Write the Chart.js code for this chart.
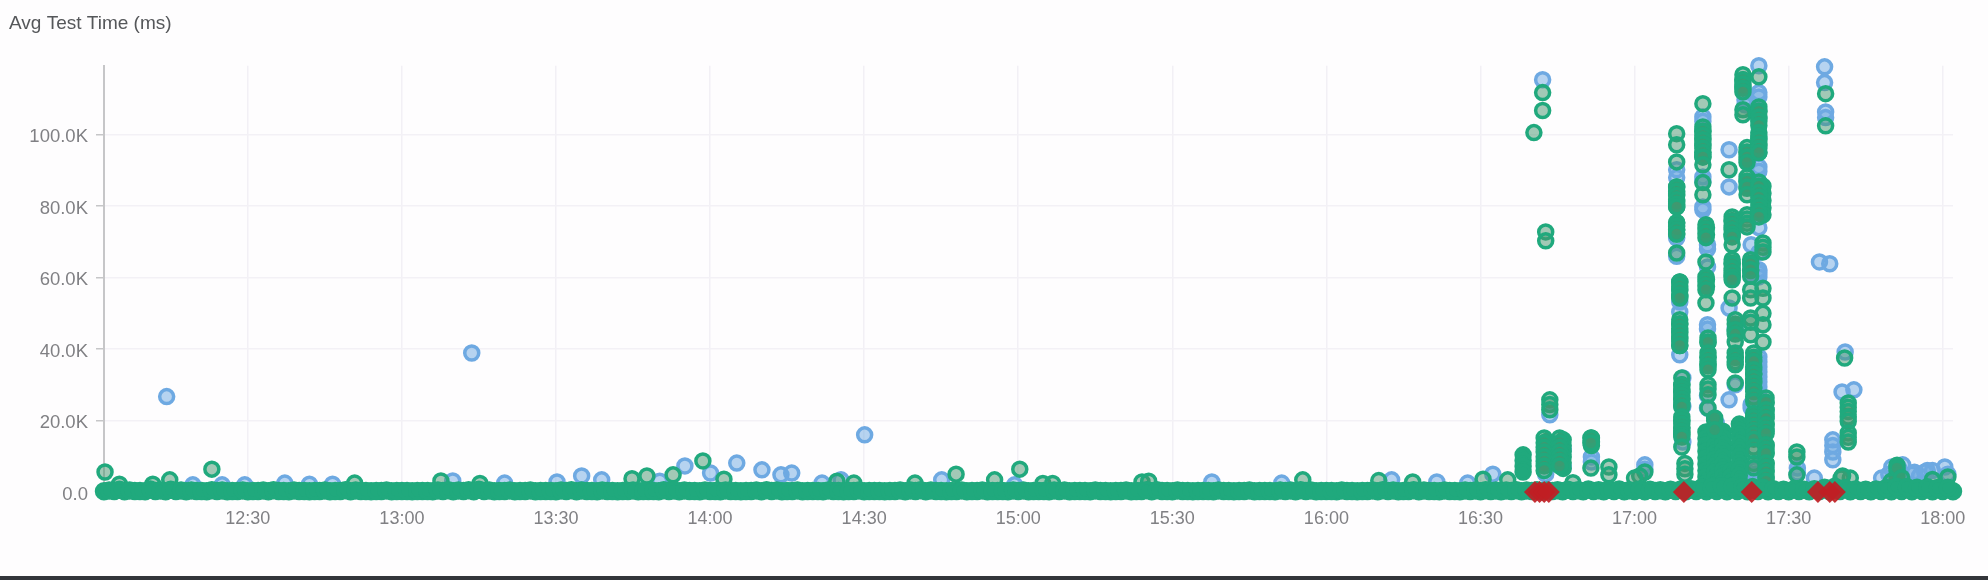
<!DOCTYPE html>
<html>
<head>
<meta charset="utf-8">
<title>Avg Test Time</title>
<script src="https://cdn.jsdelivr.net/npm/chart.js@4"></script>
<style>
    html, body { margin: 0; padding: 0; background: #fefdfe; overflow: hidden; }
    #chartBox { width: 1988px; height: 576px; }
    #bottomBar { width: 1988px; height: 4px; background: #33353a; }
</style>
</head>
<body>
<div id="chartBox"><canvas id="testTimeChart" width="1988" height="576"></canvas></div>
<div id="bottomBar"></div>
<script>

// times are minutes since midnight, values are thousands of ms
const xTickValues = [750, 780, 810, 840, 870, 900, 930, 960, 990, 1020, 1050, 1080];
const xTickLabels = ["12:30", "13:00", "13:30", "14:00", "14:30", "15:00", "15:30", "16:00", "16:30", "17:00", "17:30", "18:00"];
const yTickValues = [0, 20, 40, 60, 80, 100];
const yTickLabels = ["0.0", "20.0K", "40.0K", "60.0K", "80.0K", "100.0K"];

// failed runs
const failTimes = [1000.6, 1001.5, 1002.4, 1003.3, 1029.6, 1042.8, 1055.7, 1058, 1059];
const failValues = [0, 0, 0, 0, 0, 0, 0, 0, 0];

// the solid band along the bottom: fast runs, even minutes
const baseTimes = [
    722, 724, 726, 728, 730, 732, 734, 736, 738, 740, 742, 744, 746, 748, 750, 752, 754, 756, 758, 760,
    762, 764, 766, 768, 770, 772, 774, 776, 778, 780, 782, 784, 786, 788, 790, 792, 794, 796, 798, 800,
    802, 804, 806, 808, 810, 812, 814, 816, 818, 820, 822, 824, 826, 828, 830, 832, 834, 836, 838, 840,
    842, 844, 846, 848, 850, 852, 854, 856, 858, 860, 862, 864, 866, 868, 870, 872, 874, 876, 878, 880,
    882, 884, 886, 888, 890, 892, 894, 896, 898, 900, 902, 904, 906, 908, 910, 912, 914, 916, 918, 920,
    922, 924, 926, 928, 930, 932, 934, 936, 938, 940, 942, 944, 946, 948, 950, 952, 954, 956, 958, 960,
    962, 964, 966, 968, 970, 972, 974, 976, 978, 980, 982, 984, 986, 988, 990, 992, 994, 996, 998, 1000,
    1002, 1004, 1006, 1008, 1010, 1012, 1014, 1016, 1018, 1020, 1022, 1024, 1026, 1028, 1030, 1032, 1034, 1036, 1038, 1040,
    1042, 1044, 1046, 1048, 1050, 1052, 1054, 1056, 1058, 1060, 1062, 1064, 1066, 1068, 1070, 1072, 1074, 1076, 1078, 1080, 1082
];
const baseValues = [
    0.2, 0.3, 0.2, 0.3, 0.2, 0.3, 0.2, 0.3, 0.2, 0.3, 0.2, 0.3, 0.2, 0.3, 0.2, 0.3, 0.2, 0.3, 0.2, 0.3,
    0.2, 0.3, 0.2, 0.3, 0.2, 0.3, 0.2, 0.3, 0.2, 0.3, 0.2, 0.3, 0.2, 0.3, 0.2, 0.3, 0.2, 0.3, 0.2, 0.3,
    0.2, 0.3, 0.2, 0.3, 0.2, 0.3, 0.2, 0.3, 0.2, 0.3, 0.2, 0.3, 0.2, 0.3, 0.2, 0.3, 0.2, 0.3, 0.2, 0.3,
    0.2, 0.3, 0.2, 0.3, 0.2, 0.3, 0.2, 0.3, 0.2, 0.3, 0.2, 0.3, 0.2, 0.3, 0.2, 0.3, 0.2, 0.3, 0.2, 0.3,
    0.2, 0.3, 0.2, 0.3, 0.2, 0.3, 0.2, 0.3, 0.2, 0.3, 0.2, 0.3, 0.2, 0.3, 0.2, 0.3, 0.2, 0.3, 0.2, 0.3,
    0.2, 0.3, 0.2, 0.3, 0.2, 0.3, 0.2, 0.3, 0.2, 0.3, 0.2, 0.3, 0.2, 0.3, 0.2, 0.3, 0.2, 0.3, 0.2, 0.3,
    0.2, 0.3, 0.2, 0.3, 0.2, 0.3, 0.2, 0.3, 0.2, 0.3, 0.2, 0.3, 0.2, 0.3, 0.2, 0.3, 0.2, 0.3, 0.2, 0.3,
    0.2, 0.3, 0.2, 0.3, 0.2, 0.3, 0.2, 0.3, 0.2, 0.3, 0.2, 0.3, 0.2, 0.3, 0.2, 0.3, 0.2, 0.3, 0.2, 0.3,
    0.2, 0.3, 0.2, 0.3, 0.2, 0.3, 0.2, 0.3, 0.2, 0.3, 0.2, 0.3, 0.2, 0.3, 0.2, 0.3, 0.2, 0.3, 0.2, 0.3, 0.2
];
// same band, odd minutes
const upperTimes = [
    723, 725, 727, 729, 731, 733, 735, 737, 739, 741, 743, 745, 747, 749, 751, 753, 755, 757, 759, 761,
    763, 765, 767, 769, 771, 773, 775, 777, 779, 781, 783, 785, 787, 789, 791, 793, 795, 797, 799, 801,
    803, 805, 807, 809, 811, 813, 815, 817, 819, 821, 823, 825, 827, 829, 831, 833, 835, 837, 839, 841,
    843, 845, 847, 849, 851, 853, 855, 857, 859, 861, 863, 865, 867, 869, 871, 873, 875, 877, 879, 881,
    883, 885, 887, 889, 891, 893, 895, 897, 899, 901, 903, 905, 907, 909, 911, 913, 915, 917, 919, 921,
    923, 925, 927, 929, 931, 933, 935, 937, 939, 941, 943, 945, 947, 949, 951, 953, 955, 957, 959, 961,
    963, 965, 967, 969, 971, 973, 975, 977, 979, 981, 983, 985, 987, 989, 991, 993, 995, 997, 999, 1001,
    1003, 1005, 1007, 1009, 1011, 1013, 1015, 1017, 1019, 1021, 1023, 1025, 1027, 1029, 1031, 1033, 1035, 1037, 1039, 1041,
    1043, 1045, 1047, 1049, 1051, 1053, 1055, 1057, 1059, 1061, 1063, 1065, 1067, 1069, 1071, 1073, 1075, 1077, 1079, 1081
];
const upperValues = [
    0.4, 0.6, 0.4, 0.3, 0.7, 0.4, 0.6, 0.4, 0.4, 0.3, 0.5, 0.4, 0.3, 0.4, 0.3, 0.4, 0.5, 0.3, 0.4, 0.3,
    0.3, 0.4, 0.3, 0.5, 0.4, 0.3, 0.3, 0.4, 0.3, 0.3, 0.3, 0.3, 0.4, 0.5, 0.4, 0.5, 0.6, 0.4, 0.3, 0.4,
    0.3, 0.4, 0.3, 0.3, 0.4, 0.5, 0.4, 0.3, 0.4, 0.3, 0.3, 0.4, 0.3, 0.3, 0.5, 0.4, 0.4, 0.3, 0.4, 0.3,
    0.4, 0.3, 0.3, 0.4, 0.5, 0.4, 0.3, 0.4, 0.3, 0.3, 0.4, 0.3, 0.3, 0.4, 0.3, 0.3, 0.3, 0.4, 0.4, 0.5,
    0.4, 0.3, 0.3, 0.4, 0.3, 0.4, 0.3, 0.3, 0.4, 0.4, 0.3, 0.3, 0.4, 0.4, 0.3, 0.3, 0.4, 0.3, 0.3, 0.4,
    0.3, 0.5, 0.5, 0.3, 0.4, 0.3, 0.3, 0.3, 0.4, 0.3, 0.3, 0.4, 0.3, 0.3, 0.4, 0.4, 0.5, 0.4, 0.3, 0.3,
    0.4, 0.3, 0.3, 0.4, 0.5, 0.4, 0.3, 0.5, 0.4, 0.3, 0.4, 0.3, 0.4, 0.4, 0.5, 0.4, 0.4, 0.5, 0.4, 0.5,
    0.4, 0.5, 0.6, 0.5, 0.7, 0.5, 0.6, 0.7, 0.5, 0.7, 0.6, 0.5, 0.6, 0.7, 0.8, 1.2, 1.4, 1.6, 1.5, 1.3,
    1.4, 1.2, 0.8, 0.6, 0.7, 0.6, 0.8, 1.2, 1.5, 1.1, 0.7, 0.6, 0.7, 1.1, 1.5, 1.4, 1.2, 1.3, 1.1, 1.2
];

// columns packed so tight they read as solid green
const solidTimes = [
    998.3, 1002.9, 1006.1, 1011.6, 1033.9, 1035.6, 1037.2, 1038.8, 1040.4,
    1028.2, 1028.8, 1029.2, 1033.3, 1034, 1034.3, 1039, 1039.6,
    1041.1, 1041.9, 1042.6, 1043.2, 1044.2, 1045, 1045.6, 1071.1
];
const solidValues = [
    [10.4, 8.8, 7.2, 5.6],
    [14.2, 12.6, 11, 9.4, 7.8],
    [14.6, 13, 11.4, 9.8, 8.2, 6.6],
    [15.1, 14, 13],
    [16.8, 15, 13.2, 11.4, 9.6, 7.8, 6, 4.2, 2.4],
    [20, 18.2, 16.4, 14.6, 12.8, 11, 9.2, 7.4, 5.6, 3.8, 2],
    [17, 15.2, 13.4, 11.6, 9.8, 8, 6.2, 4.4, 2.6],
    [6, 4.4, 2.8, 1.6],
    [19, 17.2, 15.4, 13.6, 11.8, 10, 8.2, 6.4, 4.6, 2.8],
    [85.4, 83.4, 81.4, 79.8, 75.4, 73.4, 72.2],
    [58.8, 56.8, 54.8, 47, 45, 43, 41],
    [30, 28, 26, 24.2, 20, 18, 16.5],
    [101, 99, 97, 95, 93.8],
    [74, 72, 59.5, 57.5],
    [41.9, 37.7, 35.7],
    [76, 74, 72, 64, 62, 60.5],
    [47, 45, 37.7],
    [115.4, 113.4],
    [95, 93, 87, 85],
    [64, 62],
    [37, 35, 33, 31, 29, 21, 19, 17, 15],
    [106.6, 104.6, 99, 97, 95],
    [85.6, 83.6, 81.6, 79.6, 77.6],
    [25, 23, 21, 19, 17, 13, 11, 8, 6, 4],
    [7.5, 6, 4.5, 3]
];

const greenColTimes = [
    1028.2, 1028.8, 1029.2, 1029.8,
    1033.3, 1033.9, 1034.3, 1035.6,
    1039, 1039.6, 1038.4,
    1041.1, 1041.9, 1042.6, 1043.2,
    1044.2, 1045, 1045.6,
    1003.5, 1002.4, 1005.4, 1011.5, 1015, 1022, 1051.6, 1060.9, 1061.6, 1062
];
const greenColValues = [
    [100.3, 97.2, 92.4, 85.4, 84.2, 83, 81.8, 80.6, 79.8, 75.4, 74.4, 73.4, 72.2, 66.9],
    [58.8, 57.6, 56.4, 55.2, 54.3, 48.2, 47, 45.8, 44.6, 43.4, 42.2, 41],
    [31.9, 30, 29, 28, 27, 26, 25, 23.8, 21, 20, 19, 18, 17, 16, 15.4, 12.6],
    [8, 6.5, 5],
    [108.7, 102.2, 101, 99.8, 98.6, 97.4, 96.2, 95, 93.8, 91.6, 86.6, 83.2],
    [74.8, 73.6, 72.4, 71.2, 64.4, 60.2, 59, 57.8, 56.6, 52.9],
    [43.1, 41.9, 38.9, 37.7, 36.5, 35.3, 34.2, 30, 28.8, 27.2, 23.5],
    [20.7, 17.4],
    [77, 75.8, 74.6, 73.4, 72.2, 71.4, 69.2, 65, 63.8, 62.6, 61.4, 60.2, 59.4, 54.3],
    [48.2, 45.4, 44.2, 42, 38.9, 37.7, 36.5, 35.6, 30.5],
    [90.2],
    [116.8, 115.4, 114.2, 113, 112, 107, 105.6],
    [96.4, 95.2, 93.8, 92.2, 88.2, 87, 85.4, 83.2, 77.6, 76.4, 75.2, 74.2],
    [65, 63.8, 62.2, 60.4, 56.6, 54.3, 48.7, 47.5, 44],
    [38.9, 37.7, 36.5, 34.2, 33, 31.8, 30.5, 29.3, 28.1, 26.6, 25.4, 22, 20.8, 19.6, 18.4, 17.2, 16, 14.8, 12.6, 11.4, 8, 6.8],
    [116.2, 107.8, 106.6, 105, 103.8, 102.6, 100.6, 99.6, 98.6, 97.4, 96.2, 95, 86.8, 85.6, 83.8, 82.6, 81, 79.8, 78.6, 78.2, 77],
    [69.7, 68.5, 67.2, 57, 54.3, 50, 46.8, 42],
    [26.3, 25.1, 23, 21.8, 20.6, 18.8, 17.6, 16.4, 13.2, 12, 10.8, 8.1, 6.9, 5.7, 4.2, 3],
    [25.8, 24.5, 23],
    [15.1, 13.8, 12.5, 11.2, 9.9, 8.6, 7.3, 6],
    [15.1, 13.8, 12.5, 11.2, 9.9, 8.6, 7.3],
    [15.1, 13.7, 6.7],
    [7, 4.8],
    [5.6],
    [11.2, 9.8, 4.8],
    [37.5],
    [24.9, 23.7, 22.5, 21, 19.8, 16.5, 15.3, 14],
    [3.9]
];

const blueColTimes = [
    1028.2, 1028.8, 1029.4,
    1033.3, 1034.2, 1035.9, 1037.4,
    1038.4, 1039.6, 1040.8,
    1041.5, 1042.7, 1043.5,
    1044.2, 1045.1,
    1003.5, 1002.7, 1006.1, 1011.6, 1022,
    1051.7, 1058.6, 1057, 1057.2
];
const blueColValues = [
    [90.2, 88, 71.1, 66],
    [53.2, 50.4, 38.4],
    [31.9, 24, 14],
    [105, 103.8, 88.2, 87, 79.8, 79],
    [69.2, 68, 63, 46.8, 45.6, 27, 23.5],
    [19.3, 14, 8],
    [12, 7],
    [95.8, 85.4, 51.5, 25.8],
    [46, 30],
    [12, 7, 4],
    [109.8, 108.4],
    [69.2, 61.3, 23.5, 24.5],
    [6.2, 5, 3.5],
    [119.3, 111.8, 110.6, 91, 89.8, 74, 67, 62.2, 61.3, 60.2, 37.8, 36.4, 35, 33.6, 32.2, 30.8, 29.4, 28, 27],
    [14, 10, 6],
    [21.6],
    [11, 8, 5],
    [12, 7],
    [9.8, 8.4],
    [7.6, 6.4],
    [6.7, 5.3],
    [14.6, 13, 11.2, 9],
    [119, 114.6],
    [106.4, 104.8]
];

// single points away from the columns
const greenTimes = [
    722.2, 743, 734.8, 725, 731.5, 770.8, 787.6, 795.2, 824.8, 827.7, 832.8, 838.6, 842.7, 864.7, 868,
    879.9, 887.9, 895.4, 900.3, 904.8, 906.7, 924.1, 925.4, 955.4, 970.2, 976.8, 990.5, 995.3, 1008,
    1002.1, 1002.1, 1000.4, 1002.7, 1002.7, 1021, 1020, 1060.2, 1070, 1071.1, 1072, 1078, 1081, 1057.2, 1057.2, 1060.5
];
const greenValues = [
    5.6, 6.4, 3.4, 2.2, 2.2, 2.5, 3.1, 2.4, 3.7, 4.5, 4.8, 8.7, 3.6, 3, 2.5,
    2.5, 5, 3.4, 6.4, 2.4, 2.4, 2.8, 3, 3.4, 3.2, 2.8, 3.6, 3.4, 2.6,
    111.8, 106.8, 100.6, 72.8, 70.3, 4.5, 3.9, 3.9, 3, 6.7, 4, 3.5, 4.2, 111.5, 102.5, 4.5
];
const blueTimes = [
    734.2, 793.6, 739.3, 745, 749.4, 757.2, 762, 766.5, 789.9, 800, 810.2, 815, 818.9, 830.2, 835.1, 840.1,
    845.2, 850.1, 853.8, 855.9, 861.8, 865.5, 870.1, 885.1, 899.3, 937.7, 951.3, 972.7, 981.5, 987.5, 992.4,
    1002.1, 1056, 1058, 1060.4, 1061, 1062.7, 1055, 1068.1, 1070.1, 1072.2, 1074, 1076.5, 1078, 1080.4, 1081,
    1069.5, 1071.5, 1074.5, 1075.5, 1077
];
const blueValues = [
    26.7, 38.9, 2, 2, 2, 2.5, 2.2, 2.2, 3.1, 2.5, 2.8, 4.5, 3.4, 3, 7.3, 5.3,
    8.1, 6.2, 4.8, 5.3, 2.5, 3.4, 16, 3.4, 2, 2.8, 2.5, 3.4, 2.8, 2.5, 5,
    115.4, 64.4, 63.9, 28, 39.2, 28.6, 3.9, 3.9, 7, 7.6, 5, 5.6, 6, 7, 5,
    5, 6.5, 5.5, 4.5, 6
];

function aPuntos(tiempos, valores) {
    return tiempos.map((t, i) => ({ x: t, y: valores[i] }));
}

function columnasAPuntos(tiempos, columnas) {
    return tiempos.flatMap((t, i) => columnas[i].map(v => ({ x: t, y: v })));
}

const GREEN = "#20a97d";
const BLUE = "#6ea9e2";
const TICK_COLOR = "#808084";
const FONT_FAMILY = "'Liberation Sans', Arial, sans-serif";

// the first dataset is painted last, so it ends up on top
new Chart(document.getElementById("testTimeChart"), {
    type: "scatter",
    data: {
        datasets: [
            {
                label: "Failed",
                data: aPuntos(failTimes, failValues),
                pointStyle: "rectRot",
                pointRadius: 11,
                pointBorderWidth: 0,
                backgroundColor: "rgba(192, 30, 36, 0.92)",
                clip: false
            },
            {
                label: "Band",
                data: aPuntos(baseTimes, baseValues).concat(aPuntos(upperTimes, upperValues)),
                pointRadius: 7.5,
                pointBorderWidth: 3.5,
                backgroundColor: GREEN,
                borderColor: GREEN,
                clip: false
            },
            {
                label: "Passed",
                data: columnasAPuntos(greenColTimes, greenColValues).concat(aPuntos(greenTimes, greenValues)),
                pointRadius: 7,
                pointBorderWidth: 3.5,
                backgroundColor: "rgba(70, 150, 110, 0.5)",
                borderColor: GREEN,
                clip: false
            },
            {
                label: "Solid",
                data: columnasAPuntos(solidTimes, solidValues),
                pointRadius: 7,
                pointBorderWidth: 3.5,
                backgroundColor: GREEN,
                borderColor: GREEN,
                clip: false
            },
            {
                label: "Other",
                data: columnasAPuntos(blueColTimes, blueColValues).concat(aPuntos(blueTimes, blueValues)),
                pointRadius: 7,
                pointBorderWidth: 3.5,
                backgroundColor: "rgba(110, 169, 226, 0.5)",
                borderColor: BLUE,
                clip: false
            }
        ]
    },
    options: {
        responsive: false,
        animation: false,
        layout: { padding: { left: 9, right: 35, top: 0, bottom: 0 } },
        plugins: {
            legend: { display: false },
            tooltip: { enabled: false },
            title: {
                display: true,
                text: "Avg Test Time (ms)",
                align: "start",
                color: "#55575a",
                font: { family: FONT_FAMILY, size: 19, weight: "normal" },
                padding: { top: 12, bottom: 31 }
            }
        },
        scales: {
            x: {
                type: "linear",
                min: 722,
                max: 1082,
                afterBuildTicks: axis => { axis.ticks = xTickValues.map(v => ({ value: v })); },
                afterFit: axis => { axis.height = 84; },
                border: { display: false },
                grid: { color: "#f2f0f5", lineWidth: 1.5, drawTicks: false },
                ticks: {
                    color: TICK_COLOR,
                    padding: 16,
                    autoSkip: false,
                    maxRotation: 0,
                    font: { family: FONT_FAMILY, size: 18 },
                    callback: value => xTickLabels[xTickValues.indexOf(value)]
                }
            },
            y: {
                min: 0,
                max: 119.3,
                afterBuildTicks: axis => { axis.ticks = yTickValues.map(v => ({ value: v })); },
                afterFit: axis => { axis.width = 95; },
                border: { display: true, color: "#c6c6c8", width: 2 },
                grid: { color: "#f3f1f6", lineWidth: 1.5, tickColor: "#c6c6c8", tickLength: 8 },
                ticks: {
                    color: TICK_COLOR,
                    padding: 8,
                    labelOffset: 2.5,
                    font: { family: FONT_FAMILY, size: 18.5 },
                    callback: value => yTickLabels[yTickValues.indexOf(value)]
                }
            }
        }
    }
});

</script>
</body>
</html>
